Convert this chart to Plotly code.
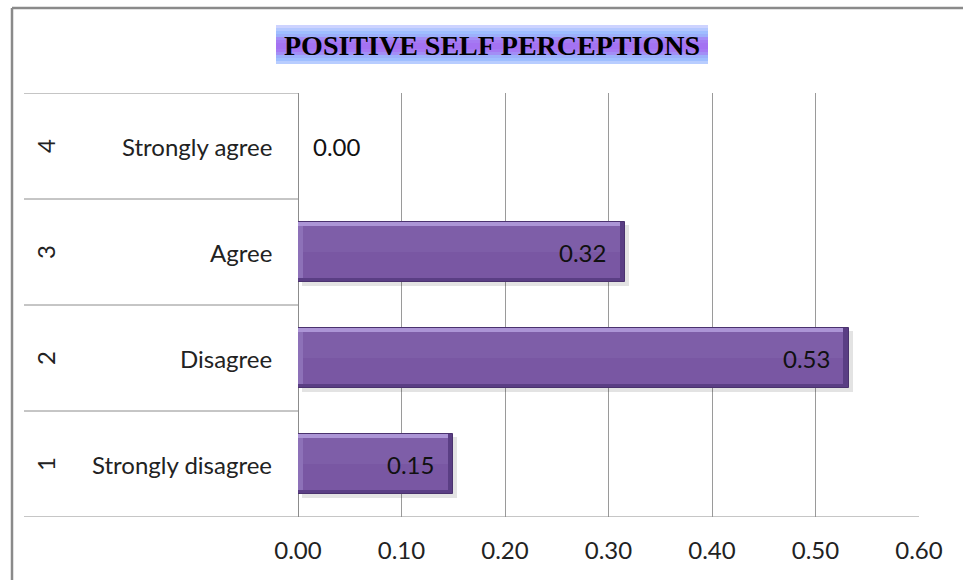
import plotly.graph_objects as go

# ---- data ----
codes = ["1", "2", "3", "4"]
categories = ["Strongly disagree", "Disagree", "Agree", "Strongly agree"]
values = [0.150, 0.532, 0.316, 0.000]
x_ticks = [0.0, 0.1, 0.2, 0.3, 0.4, 0.5, 0.6]
title_text = "POSITIVE SELF PERCEPTIONS"

# ---- geometry helpers ----
W_, H_ = 963, 580
L, R, T, B = 298, 44, 93, 63
PW = W_ - L - R
PH = H_ - T - B


def px(x):
    return (x - L) / PW


def py(y):
    return (H_ - B - y) / PH


ypos = list(range(1, len(categories) + 1))
BW = 0.575          # bar thickness in y units
t = 0.045           # bevel thickness (y units)
bx = 0.005          # bevel thickness (x units)

fig = go.Figure()

# soft shadow
fig.add_trace(go.Bar(
    y=ypos, x=[v for v in values], base=0.004, orientation="h",
    offset=-BW / 2 - 0.03, width=BW,
    marker=dict(color="rgba(0,0,0,0.11)", line=dict(width=0)),
    hoverinfo="skip", showlegend=False))
# dark outer bar (bottom/right bevel)
fig.add_trace(go.Bar(
    y=ypos, x=values, orientation="h", offset=-BW / 2, width=BW,
    marker=dict(color="#5a3e84", line=dict(color="#4a326e", width=1)),
    showlegend=False))
# top light bevel
fig.add_trace(go.Bar(
    y=ypos, x=[max(v - bx, 0) for v in values], orientation="h",
    offset=BW / 2 - t, width=t,
    marker=dict(color="#ac95d6", line=dict(width=0)),
    hoverinfo="skip", showlegend=False))
# left bevel
fig.add_trace(go.Bar(
    y=ypos, x=[min(bx, v) for v in values], orientation="h",
    offset=-BW / 2 + t, width=BW - 2 * t,
    marker=dict(color="#8d71b8", line=dict(width=0)),
    hoverinfo="skip", showlegend=False))
# face upper (slightly lighter)
fig.add_trace(go.Bar(
    y=ypos, x=[max(v - 2 * bx, 0) for v in values], base=bx, orientation="h",
    offset=0, width=BW / 2 - t,
    marker=dict(color="#7e5ea8", line=dict(width=0)),
    hoverinfo="skip", showlegend=False))
# face lower
fig.add_trace(go.Bar(
    y=ypos, x=[max(v - 2 * bx, 0) for v in values], base=bx, orientation="h",
    offset=-BW / 2 + t, width=BW / 2 - t,
    marker=dict(color="#7957a3", line=dict(width=0)),
    hoverinfo="skip", showlegend=False))

annotations = []
FONT = "Lato"
FS = 24
# value labels
for yv, v in zip(ypos, values):
    if v > 0:
        annotations.append(dict(x=v, y=yv, xref="x", yref="y", text=f"{v:.2f}",
                                showarrow=False, xanchor="right", xshift=-17,
                                font=dict(family=FONT, size=FS, color="#111111")))
    else:
        annotations.append(dict(x=v, y=yv, xref="x", yref="y", text=f"{v:.2f}",
                                showarrow=False, xanchor="left", xshift=13,
                                font=dict(family=FONT, size=FS, color="#111111")))
# category labels
for yv, c in zip(ypos, categories):
    annotations.append(dict(x=px(274), y=yv, xref="paper", yref="y", text=c,
                            showarrow=False, xanchor="right",
                            font=dict(family=FONT, size=FS, color="#222222")))
# code labels (rotated)
for yv, c in zip(ypos, codes):
    annotations.append(dict(x=px(45), y=yv, xref="paper", yref="y", text=c,
                            showarrow=False, xanchor="center", textangle=-90,
                            font=dict(family=FONT, size=FS, color="#222222")))
# title
annotations.append(dict(x=px(492), y=py(45), xref="paper", yref="paper",
                        text="<b>" + title_text + "</b>", showarrow=False,
                        xanchor="center", yanchor="middle",
                        font=dict(family="Liberation Serif", size=28, color="#000000")))

shapes = []
LC = "#8c8c8c"
# outer chart border (top and left edges visible)
shapes.append(dict(type="line", xref="paper", yref="paper",
                   x0=px(12), x1=px(963), y0=py(8), y1=py(8),
                   line=dict(color="#8a8a8a", width=2.5), layer="below"))
shapes.append(dict(type="line", xref="paper", yref="paper",
                   x0=px(12), x1=px(12), y0=py(580), y1=py(8),
                   line=dict(color="#8a8a8a", width=2.5), layer="below"))
# category separator lines
for k in range(len(categories) + 1):
    yb = 0.5 + k
    x1 = 1 if k == 0 else 0
    shapes.append(dict(type="line", xref="paper", yref="y", x0=px(24), x1=x1,
                       y0=yb, y1=yb, line=dict(color=LC, width=1)))
# title box gradient (stripes)
stripe_cols = ["#cdd3ff", "#b4c8ff", "#9fbeff", "#9cb0fb", "#a38ef6", "#a57af3",
               "#a472f2", "#a472f2", "#a57af3", "#a38ef6", "#9cb0fb", "#9fbeff", "#b8cdff"]
top, bot = 25, 64
n = len(stripe_cols)
for i, col in enumerate(stripe_cols):
    y0 = top + (bot - top) * i / n
    y1 = top + (bot - top) * (i + 1) / n
    shapes.append(dict(type="rect", xref="paper", yref="paper",
                       x0=px(276), x1=px(708), y0=py(y1), y1=py(y0),
                       line=dict(width=0), fillcolor=col, layer="below"))

fig.update_layout(
    width=W_, height=H_,
    margin=dict(l=L, r=R, t=T, b=B, autoexpand=False),
    paper_bgcolor="white", plot_bgcolor="white",
    barmode="overlay", bargap=0,
    showlegend=False,
    xaxis=dict(range=[0, 0.6], tickvals=x_ticks, tickformat=".2f",
               showgrid=True, gridcolor="#9a9a9a", gridwidth=1,
               zeroline=True, zerolinecolor=LC, zerolinewidth=1,
               showline=False, ticks="outside", ticklen=12,
               tickcolor="rgba(0,0,0,0)",
               tickfont=dict(family=FONT, size=FS, color="#222222"),
               fixedrange=True),
    yaxis=dict(range=[0.5, 4.5], showticklabels=False, showgrid=False,
               zeroline=False, showline=False, ticks="", fixedrange=True),
    annotations=annotations,
    shapes=shapes,
)

fig.write_html("out.html")
